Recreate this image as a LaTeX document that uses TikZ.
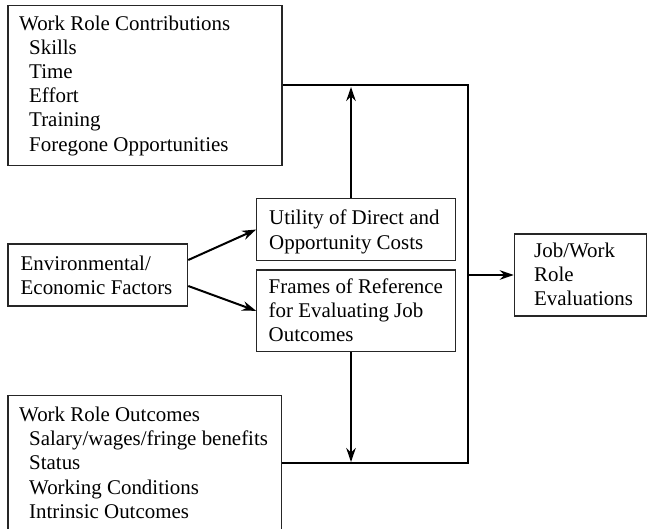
\documentclass[tikz,border=0pt]{standalone}
\usepackage{fontspec}
\setmainfont{Liberation Serif}
\usetikzlibrary{arrows.meta}
\begin{document}
\begin{tikzpicture}[x=1bp,y=-1bp,
  box/.style={draw=black!85,line width=1.1bp,inner sep=0pt,rectangle},
  lbl/.style={anchor=base west,inner sep=0pt,font=\fontsize{21}{24.2}\selectfont},
  conn/.style={line width=2bp,black,line join=miter},
  arr/.style={conn,-{Stealth[length=14bp,width=9.5bp,inset=4.5bp]}}]
\useasboundingbox (0,0) rectangle (648,529);
% boxes
\node[box,minimum width=274bp,minimum height=160bp] (contrib) at (145,85.5) {};
\node[box,minimum width=179.7bp,minimum height=62bp] (env) at (97.85,275) {};
\node[box,minimum width=199bp,minimum height=62.4bp] (util) at (356.2,229.5) {};
\node[box,minimum width=199bp,minimum height=81.7bp] (frames) at (356.2,310.85) {};
\node[box,minimum width=132.4bp,minimum height=82bp] (job) at (580.5,275) {};
\node[box,minimum width=273.5bp,minimum height=135.3bp] (outc) at (144.75,463.35) {};
% texts
\node[lbl] (tcontrib) at (19,30.5) {\begin{tabular}[t]{@{}l@{}}Work Role Contributions\\
\hspace*{10bp}Skills\\ \hspace*{10bp}Time\\ \hspace*{10bp}Effort\\ \hspace*{10bp}Training\\ \hspace*{10bp}Foregone Opportunities\end{tabular}};
\node[lbl] (toutc) at (19,421.7) {\begin{tabular}[t]{@{}l@{}}Work Role Outcomes\\
\hspace*{10bp}Salary/wages/fringe benefits\\ \hspace*{10bp}Status\\ \hspace*{10bp}Working Conditions\\ \hspace*{10bp}Intrinsic Outcomes\end{tabular}};
\node[lbl] (tenv) at (20.5,270) {\begin{tabular}[t]{@{}l@{}}Environmental/\\Economic Factors\end{tabular}};
\node[lbl] (tutil) at (269,225) {\begin{tabular}[t]{@{}l@{}}Utility of Direct and\\Opportunity Costs\end{tabular}};
\node[lbl] (tframes) at (268.5,293.3) {\begin{tabular}[t]{@{}l@{}}Frames of Reference\\for Evaluating Job\\Outcomes\end{tabular}};
\node[lbl] (tjob) at (534,257.7) {\begin{tabular}[t]{@{}l@{}}Job/Work\\Role\\Evaluations\end{tabular}};
% junctions
\coordinate (rt) at (468,85.5);
\coordinate (rb) at (468,463.35);
\coordinate (up) at (351,87);
\coordinate (dn) at (351,462);
% connectors
\draw[conn] (contrib.east) -- (rt) -- (rb) -- (outc.east);
\draw[arr] (util.north -| up) -- (up);
\draw[arr] (frames.south -| dn) -- (dn);
\draw[arr] (job.west -| rt) -- (job.west);
\draw[arr] ([yshift=15bp]env.east) -- (util.west);
\draw[arr] ([yshift=-11bp]env.east) -- (frames.west);
\end{tikzpicture}
\end{document}
